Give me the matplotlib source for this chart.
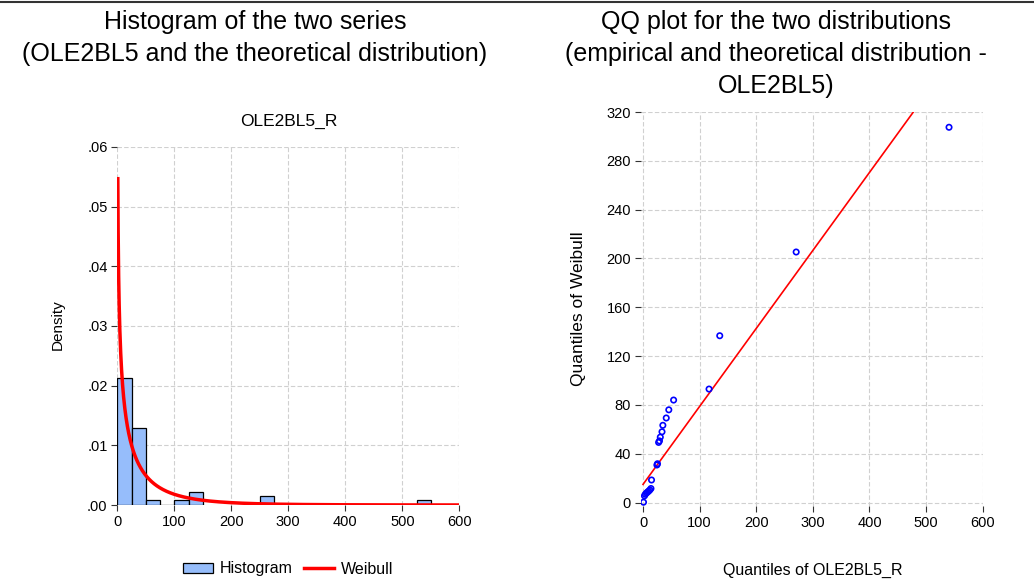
import numpy as np
import matplotlib
matplotlib.use("Agg")
import matplotlib.pyplot as plt
from matplotlib.lines import Line2D
from matplotlib.patches import Patch

plt.rcParams['font.family'] = ['Liberation Sans', 'DejaVu Sans']

# histogram (bin width 25), densities
bin_left = [0, 25, 50, 75, 100, 125, 250, 525]
bin_density = [0.0213, 0.01285, 0.00084, 0.0, 0.00084, 0.0022, 0.00146, 0.0008]
BIN_W = 25

# fitted Weibull (shape, scale), curve drawn from its density
W_SHAPE = 0.70
W_SCALE = 34.5
W_START, W_END = 0.95, 600

# QQ points: empirical quantiles vs Weibull quantiles
qq_emp = [0.8, 2.5, 4, 6, 8, 10, 12, 14, 15, 24.5, 25.5, 27.5, 29, 30.5,
          33.5, 35, 41, 45.5, 54, 116.6, 135.5, 270.5, 540.5]
qq_theo = [0.3, 5.5, 6.8, 7.8, 8.6, 9.4, 10.3, 11.5, 18.5, 30.8, 31.8, 49.3, 50.5, 53.6,
           58, 63.3, 69.3, 76, 84, 93, 136.7, 205.3, 307.5]
# QQ reference line: intercept and slope
QQ_A, QQ_B = 14.9, 0.639

fig = plt.figure(figsize=(10.34, 5.81), dpi=100)

def px(x, y):
    return x / 1034, 1 - y / 581

# -------------------------------------------------------------------------
# left: histogram + Weibull density
# -------------------------------------------------------------------------
ax1 = fig.add_axes([0.1134, 0.1308, 0.3308, 0.6162])
ax1.bar(bin_left, bin_density, width=BIN_W, align='edge', color='#96bdfb',
        edgecolor='black', linewidth=0.9, zorder=2)
xs = np.linspace(W_START, W_END, 2000)
pdf = (W_SHAPE / W_SCALE) * (xs / W_SCALE) ** (W_SHAPE - 1) * np.exp(-(xs / W_SCALE) ** W_SHAPE)
ax1.plot(xs, pdf, color='red', lw=2.5, zorder=3, solid_capstyle='butt')
ax1.set_xlim(0, 600)
ax1.set_ylim(0, 0.06)
ax1.set_xticks(range(0, 601, 100))
ax1.set_yticks([0, .01, .02, .03, .04, .05, .06])
ax1.set_yticklabels(['.00', '.01', '.02', '.03', '.04', '.05', '.06'])
fig.text(*px(58, 325), 'Density', rotation=90, ha='center', va='center', fontsize=11)
fig.text(*px(289, 121), 'OLE2BL5_R', ha='center', va='center', fontsize=12.5)

# -------------------------------------------------------------------------
# right: QQ plot
# -------------------------------------------------------------------------
ax2 = fig.add_axes([0.6197, 0.1287, 0.3307, 0.6785])
ax2.scatter(qq_emp, qq_theo, s=15, facecolors='none', edgecolors='#0000ff',
            linewidths=1.2, zorder=3)
lx = np.array([0, 600])
ax2.plot(lx, QQ_A + QQ_B * lx, color='red', lw=1.2, zorder=2)
ax2.set_xlim(-4, 600)
ax2.set_ylim(-3, 320)
ax2.set_xticks(range(0, 601, 100))
ax2.set_yticks(range(0, 321, 40))
fig.text(*px(578, 309), 'Quantiles of Weibull', rotation=90, ha='center', va='center', fontsize=12.5)
fig.text(*px(813, 570), 'Quantiles of OLE2BL5_R', ha='center', va='center', fontsize=11.5)

for ax in (ax1, ax2):
    for s in ax.spines.values():
        s.set_visible(False)
    ax.grid(True, color='#d0d0d0', ls=(0, (4, 2)), lw=0.8, zorder=0)
    ax.set_axisbelow(True)
    ax.tick_params(direction='out', length=4, width=0.8, labelsize=10.5, color='#333333', pad=3)

# legend under the histogram
handles = [Patch(facecolor='#96bdfb', edgecolor='black', linewidth=0.9),
           Line2D([0], [0], color='red', lw=2.5)]
fig.legend(handles, ['Histogram', 'Weibull'], loc='center', ncol=2, frameon=False,
           bbox_to_anchor=px(288, 569), fontsize=11.5,
           handlelength=1.9, handleheight=0.6, columnspacing=0.7, handletextpad=0.4)

# panel titles
fig.text(*px(255, 38),
         'Histogram of the two series\n(OLE2BL5 and the theoretical distribution)',
         ha='center', va='center', fontsize=18, linespacing=1.42)
fig.text(*px(776, 54),
         'QQ plot for the two distributions\n(empirical and theoretical distribution -\nOLE2BL5)',
         ha='center', va='center', fontsize=18, linespacing=1.42)

# thin rule along the top edge
fig.add_artist(Line2D([0, 1], [1 - 2 / 581, 1 - 2 / 581], color='#333333', lw=1.5))

fig.savefig('out.png', dpi=100)
